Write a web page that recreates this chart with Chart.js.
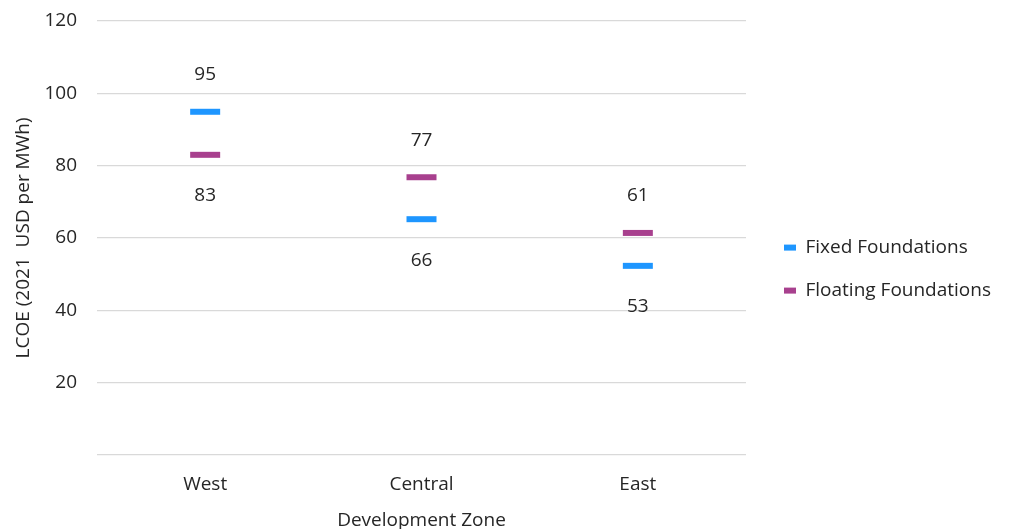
<!DOCTYPE html>
<html>
<head>
<meta charset="utf-8">
<script src="https://cdn.jsdelivr.net/npm/chart.js@4"></script>
<style>
  html, body { margin: 0; padding: 0; background: #fff; }
  #wrap { width: 1009px; height: 529px; }
</style>
</head>
<body>
<div id="wrap"><canvas id="myChart"></canvas></div>
<script>
var zones = ['West', 'Central', 'East'];
var fixedLcoe = [94.9, 65.2, 52.3];
var floatingLcoe = [83.0, 76.8, 61.4];
var fixedLabels = ['95', '66', '53'];
var floatingLabels = ['83', '77', '61'];
var yTicks = [20, 40, 60, 80, 100, 120];

var FONT = '"Open Sans", sans-serif';
var TEXT = '#262626';

// value labels: higher point of each zone gets its label above, lower below
var pointLabels = {
    id: 'pointLabels',
    afterDatasetsDraw: function (chart) {
        var ctx = chart.ctx;
        var texts = [fixedLabels, floatingLabels];
        ctx.save();
        ctx.font = '19px ' + FONT;
        ctx.fillStyle = TEXT;
        ctx.textAlign = 'center';
        ctx.textBaseline = 'middle';
        chart.data.datasets.forEach(function (ds, di) {
            var other = chart.data.datasets[1 - di].data;
            chart.getDatasetMeta(di).data.forEach(function (pt, i) {
                var above = ds.data[i] >= other[i];
                ctx.fillText(texts[di][i], pt.x, above ? pt.y - 37 : pt.y + 41);
            });
        });
        ctx.restore();
    }
};

var ctx = document.getElementById('myChart').getContext('2d');
var myChart = new Chart(ctx, {
    type: 'line',
    data: {
        labels: zones,
        datasets: [{
            label: 'Fixed Foundations',
            data: fixedLcoe,
            borderColor: 'rgb(30, 150, 255)',
            backgroundColor: 'rgb(30, 150, 255)'
        }, {
            label: 'Floating Foundations',
            data: floatingLcoe,
            borderColor: 'rgb(168, 64, 142)',
            backgroundColor: 'rgb(168, 64, 142)'
        }]
    },
    options: {
        responsive: true,
        maintainAspectRatio: false,
        animation: false,
        events: [],
        showLine: false,
        datasets: {
            line: {
                borderWidth: 3,
                pointStyle: 'line',
                pointRadius: 15,
                pointBorderWidth: 6
            }
        },
        layout: { padding: { top: 19, left: 12, right: 8, bottom: 0 } },
        plugins: {
            legend: {
                position: 'right',
                maxWidth: 300,
                // empty title with negative padding nudges the items up a bit
                title: { display: true, text: '', font: { size: 1 }, padding: { top: 0, bottom: -11 } },
                labels: {
                    usePointStyle: true,
                    pointStyleWidth: 12,
                    boxHeight: 12,
                    padding: 24,
                    color: TEXT,
                    font: { family: FONT, size: 19 }
                }
            },
            tooltip: { enabled: false }
        },
        scales: {
            x: {
                offset: true,
                grid: { display: false, drawTicks: false },
                border: { display: false },
                ticks: { color: TEXT, padding: 18, font: { family: FONT, size: 19 } },
                title: {
                    display: true,
                    text: 'Development Zone',
                    color: TEXT,
                    padding: { top: 0, bottom: -3 },
                    font: { family: FONT, size: 19 }
                },
                afterFit: function (axis) { axis.height = 74; }
            },
            y: {
                min: 0,
                max: 120,
                afterBuildTicks: function (axis) {
                    axis.ticks = [0].concat(yTicks).map(function (v) { return { value: v }; });
                },
                grid: { color: '#d9d9d9', lineWidth: 1.3, drawTicks: false },
                border: { display: false },
                ticks: {
                    color: TEXT,
                    padding: 20,
                    font: { family: FONT, size: 19 },
                    callback: function (v) { return v === 0 ? '' : v; }
                },
                title: {
                    display: true,
                    text: 'LCOE (2021  USD per MWh)',
                    color: TEXT,
                    padding: { top: 0, bottom: 0 },
                    font: { family: FONT, size: 19 }
                },
                afterFit: function (axis) {
                    axis.width = 85;
                    axis.paddingTop = 0;
                }
            },
            // empty spacer between plot and legend
            spacer: {
                type: 'linear',
                position: 'right',
                grid: { display: false, drawTicks: false },
                border: { display: false },
                ticks: { display: false },
                afterFit: function (axis) { axis.width = 14; }
            }
        }
    },
    plugins: [pointLabels]
});
</script>
</body>
</html>
